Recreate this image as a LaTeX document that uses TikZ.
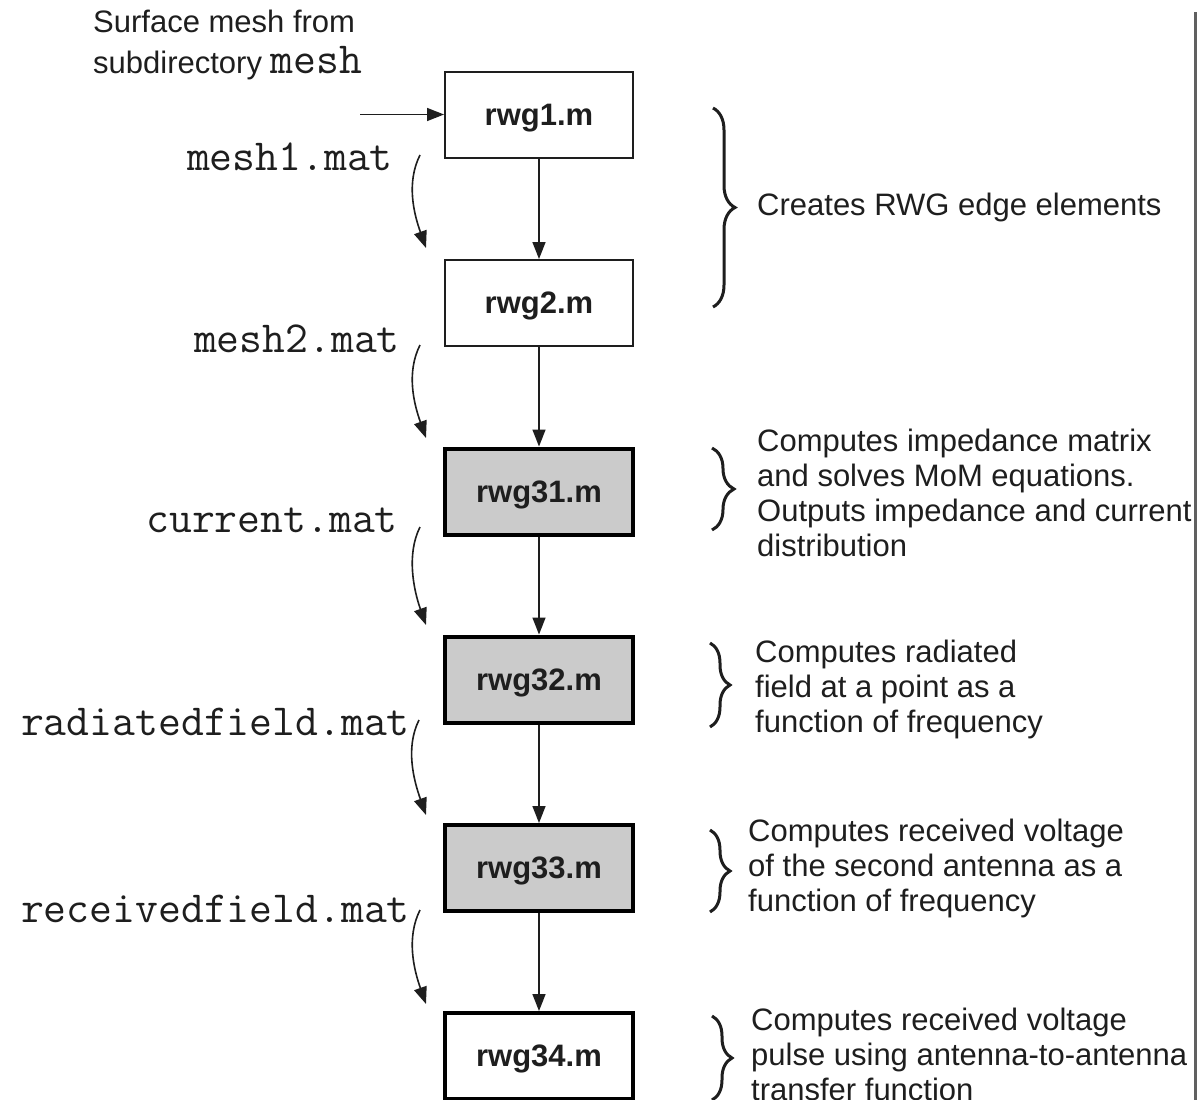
\documentclass[tikz,border=0pt]{standalone}
\usepackage{fontspec}
\setmainfont{Liberation Sans}
\usetikzlibrary{arrows.meta,decorations.pathreplacing}
\definecolor{boxgray}{HTML}{CBCBCB}
\definecolor{ink}{HTML}{1E1E1E}
\definecolor{edgegray}{HTML}{606060}
\newcommand{\monolabel}{\fontsize{44.4}{44.4}\selectfont\ttfamily}
\begin{document}
\begin{tikzpicture}[x=1pt,y=-1pt,
  prog/.style={draw=ink, line width=2pt, fill=white, minimum width=188pt,
    minimum height=86pt, inner sep=0pt, text depth=0pt,
    font=\fontsize{31}{35}\selectfont\bfseries, text=ink},
  progthick/.style={prog, draw=black, line width=4pt},
  shaded/.style={fill=boxgray},
  flow/.style={-{Triangle[length=17pt,width=13pt]}, line width=1.6pt, draw=ink},
  desc/.style={align=left, inner sep=0pt,
    font=\fontsize{31}{35}\selectfont, text=ink},
  fname/.style={anchor=base east, inner sep=0pt,
    font=\monolabel, text=ink},
  bracestyle/.style={decorate, decoration={brace, amplitude=#1}, line width=3pt, draw=ink}
]
\useasboundingbox (0,0) rectangle (1197,1100);
\fill[white] (0,0) rectangle (1197,1100);
\clip (0,0) rectangle (1197,1100);

% program boxes
\node[prog] (b1) at (539,114.5) {rwg1.m};
\node[prog] (b2) at (539,303) {rwg2.m};
\node[progthick, shaded] (b31) at (539,491.5) {rwg31.m};
\node[progthick, shaded] (b32) at (539,679.5) {rwg32.m};
\node[progthick, shaded] (b33) at (539,868) {rwg33.m};
\node[progthick] (b34) at (539,1056) {rwg34.m};

% flow arrows
\coordinate (in) at (360,114.5);
\draw[flow] (in) -- (b1.west);
\draw[flow] (b1.south) -- (b2.north);
\draw[flow] (b2.south) -- (b31.north);
\draw[flow] (b31.south) -- (b32.north);
\draw[flow] (b32.south) -- (b33.north);
\draw[flow] (b33.south) -- (b34.north);

% top text
\node[desc, anchor=north west] (src) at (93,9.5)
  {Surface mesh from\\[6pt]subdirectory {\monolabel mesh}};

% file labels
\node[fname] (f1) at (393,170) {mesh1.mat};
\node[fname] (f2) at (400,352) {mesh2.mat};
\node[fname] (f3) at (398,532) {current.mat};
\node[fname] (f4) at (410,735) {radiatedfield.mat};
\node[fname] (f5) at (410,922) {receivedfield.mat};

% curved data arrows
\coordinate (c1s) at (420,155);  \coordinate (c1e) at (426,248);
\coordinate (c2s) at (420,345);  \coordinate (c2e) at (426,438);
\coordinate (c3s) at (420,527);  \coordinate (c3e) at (426,625);
\coordinate (c4s) at (419,720);  \coordinate (c4e) at (426,815);
\coordinate (c5s) at (420,910);  \coordinate (c5e) at (426,1004);
\foreach \c in {1,...,5}
  \draw[flow] (c\c s) .. controls +(-14,28) and +(-12,-34) .. (c\c e);

% braces
\coordinate (r1t) at (713,108);  \coordinate (r1b) at (713,307);
\coordinate (r2t) at (712,448);  \coordinate (r2b) at (712,530);
\coordinate (r3t) at (710,643);  \coordinate (r3b) at (710,727);
\coordinate (r4t) at (710,830);  \coordinate (r4b) at (710,912);
\coordinate (r5t) at (712,1016); \coordinate (r5b) at (712,1100);
\draw[bracestyle=22pt] (r1t) -- (r1b);
\draw[bracestyle=22pt] (r2t) -- (r2b);
\draw[bracestyle=20pt] (r3t) -- (r3b);
\draw[bracestyle=20pt] (r4t) -- (r4b);
\draw[bracestyle=20pt] (r5t) -- (r5b);

% descriptions
\node[desc, anchor=base west] (d1) at (757,215) {Creates RWG edge elements};
\node[desc, anchor=north west] (d2) at (757,428.5)
  {Computes impedance matrix\\and solves MoM equations.\\Outputs impedance and current\\distribution};
\node[desc, anchor=north west] (d3) at (755,639.5)
  {Computes radiated\\field at a point as a\\function of frequency};
\node[desc, anchor=north west] (d4) at (748,818.5)
  {Computes received voltage\\of the second antenna as a\\function of frequency};
\node[desc, anchor=north west] (d5) at (751,1007.5)
  {Computes received voltage\\pulse using antenna-to-antenna\\transfer function};

% right edge line
\draw[edgegray, line width=3pt] (1195,12) -- (1195,1100);
\end{tikzpicture}
\end{document}
